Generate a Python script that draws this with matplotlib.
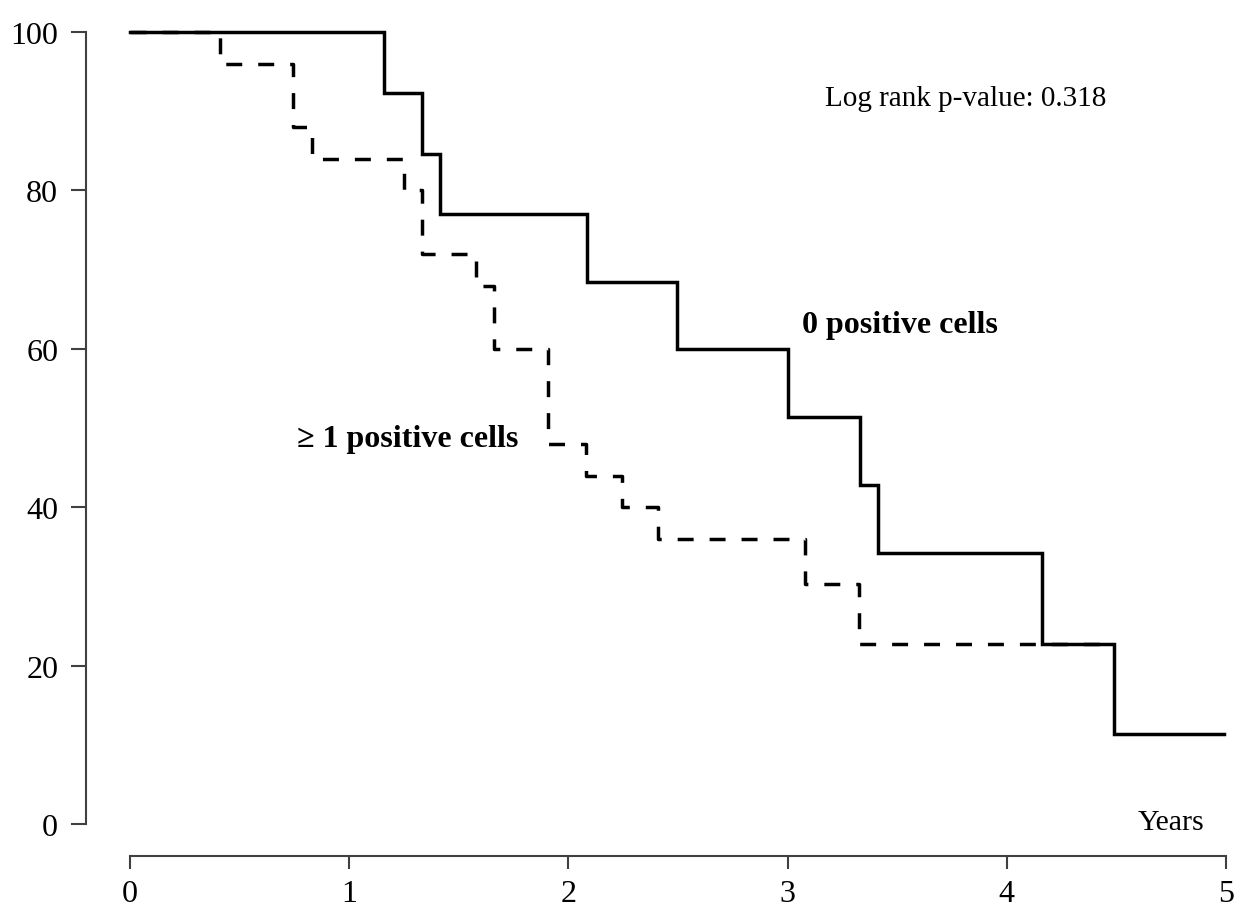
import matplotlib
matplotlib.use("Agg")
import matplotlib.pyplot as plt

# Kaplan-Meier estimates (years, percent surviving)
zero_times = [0.0, 1.160, 1.333, 1.414, 2.083, 2.494, 3.000, 3.330, 3.411, 4.161, 4.489]
zero_surv = [100.0, 92.3, 84.6, 77.0, 68.5, 60.0, 51.4, 42.8, 34.2, 22.8, 11.4]
zero_end = 4.99

pos_times = [0.0, 0.412, 0.745, 0.829, 1.250, 1.331, 1.579, 1.662, 1.909, 2.079,
             2.246, 2.407, 3.079, 3.327]
pos_surv = [100.0, 96.0, 88.0, 84.0, 80.0, 72.0, 68.0, 60.0, 48.0, 44.0,
            40.0, 36.0, 30.3, 22.7]
pos_end = 4.43

x_ticks = [0, 1, 2, 3, 4, 5]
y_ticks = [0, 20, 40, 60, 80, 100]

p_value_text = "Log rank p-value: 0.318"
label_zero = "0 positive cells"
label_pos = "\u2265 1 positive cells"
x_label = "Years"

plt.rcParams["font.family"] = ["Liberation Serif", "DejaVu Serif"]

W, H, DPI = 1237, 912, 100
fig = plt.figure(figsize=(W / DPI, H / DPI), dpi=DPI)
fig.patch.set_facecolor("white")

# axes box spans the data region; spines are pushed outward
x0_px, x5_px = 130, 1226
y100_px, y0_px = 33, 825.3
ax = fig.add_axes([x0_px / W, (H - y0_px) / H, (x5_px - x0_px) / W, (y0_px - y100_px) / H])
ax.set_xlim(0, 5)
ax.set_ylim(0, 100)

spine_col = "#404040"
for side in ("top", "right"):
    ax.spines[side].set_visible(False)
ax.spines["left"].set_position(("outward", 44 * 72 / DPI))
ax.spines["bottom"].set_position(("outward", 32 * 72 / DPI))
ax.spines["left"].set_bounds(0, 100)
ax.spines["bottom"].set_bounds(0, 5)
for side in ("left", "bottom"):
    ax.spines[side].set_color(spine_col)
    ax.spines[side].set_linewidth(1.5)

ax.set_xticks(x_ticks)
ax.set_yticks(y_ticks)
ax.tick_params(axis="both", colors=spine_col, labelcolor="black", width=1.5,
               labelsize=23)
ax.tick_params(axis="y", length=11, pad=9)
ax.tick_params(axis="x", length=9.5, pad=7)

# survival curves
ax.step(zero_times + [zero_end], zero_surv + [zero_surv[-1]], where="post",
        color="black", lw=2.5, solid_joinstyle="miter", clip_on=False)
ax.step(pos_times + [pos_end], pos_surv + [pos_surv[-1]], where="post",
        color="black", lw=2.5, ls=(0, (4.6, 4.6)), clip_on=False)

ax.text(3.17, 90.8, p_value_text, fontsize=21, ha="left", va="baseline")
ax.text(3.066, 62.1, label_zero, fontsize=23, fontweight="bold", ha="left", va="baseline")
ax.text(0.762, 47.7, label_pos, fontsize=23, fontweight="bold", ha="left", va="baseline")
ax.text(4.599, -0.6, x_label, fontsize=21.5, ha="left", va="baseline")

fig.savefig("out.png", dpi=DPI, facecolor="white")
